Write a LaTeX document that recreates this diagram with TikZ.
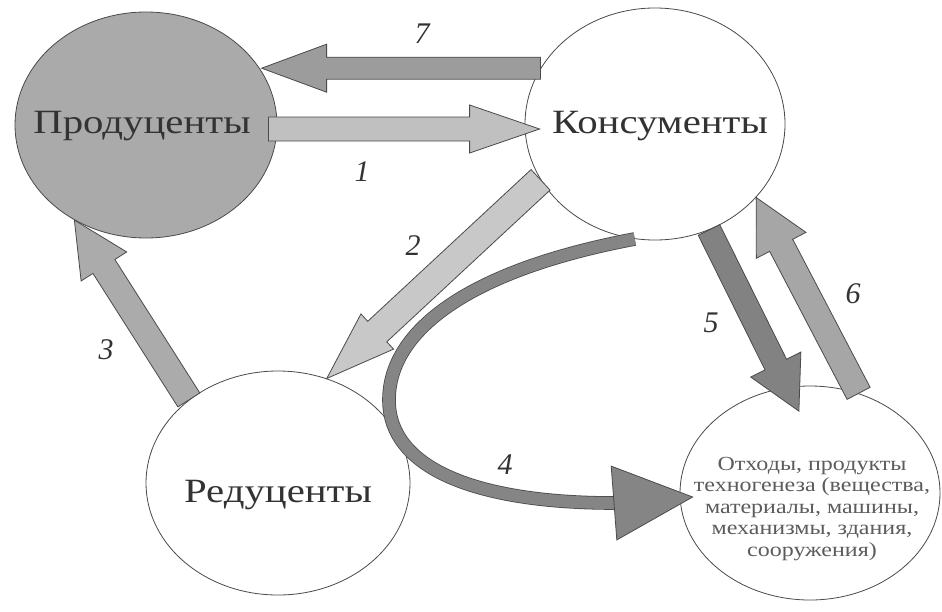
\documentclass[tikz,border=0pt]{standalone}
\usepackage{fontspec}
\setmainfont{Liberation Serif}
\newfontfamily\labelfont[FakeStretch=1.2]{Liberation Serif}
\usetikzlibrary{shapes.geometric,calc}

\definecolor{rimgray}{HTML}{4A4A4A}
\definecolor{textgray}{HTML}{333333}
\definecolor{prodgray}{HTML}{AAAAAA}
\definecolor{flowone}{HTML}{C0C0C0}
\definecolor{flowtwo}{HTML}{C8C8C8}
\definecolor{flowthree}{HTML}{ABABAB}
\definecolor{flowfour}{HTML}{858585}
\definecolor{flowfive}{HTML}{828282}
\definecolor{flowsix}{HTML}{A6A6A6}
\definecolor{flowseven}{HTML}{9C9C9C}

\tikzset{
  organism/.style={ellipse, draw=rimgray, line width=0.8pt, fill=white, inner sep=0pt},
  flow/.style={draw=rimgray, line width=0.8pt, line join=miter},
  bigname/.style={font=\labelfont\fontsize{34}{38}\selectfont, text=textgray, anchor=base, inner sep=0pt},
  smallname/.style={font=\labelfont\fontsize{20}{21.5}\selectfont, text=textgray!80, align=center, inner sep=0pt},
  num/.style={font=\itshape\fontsize{30}{30}\selectfont, text=textgray, inner sep=0pt},
}

% block arrow: [style]{tail}{tip}{shaft half width}{head half width}{head length}
\newcommand{\blockarrow}[6][]{%
  \coordinate (ba-tail) at (#2);
  \coordinate (ba-tip) at (#3);
  \coordinate (ba-base) at ($(ba-tip)!#6!(ba-tail)$);
  \filldraw[flow,#1] ($(ba-tail)!#4!90:(ba-tip)$) -- ($(ba-base)!#4!90:(ba-tip)$)
    -- ($(ba-base)!#5!90:(ba-tip)$) -- (ba-tip) -- ($(ba-base)!#5!-90:(ba-tip)$)
    -- ($(ba-base)!#4!-90:(ba-tip)$) -- ($(ba-tail)!#4!-90:(ba-tip)$) -- cycle;
}

\begin{document}
\begin{tikzpicture}[x=1pt,y=-1pt]
	\useasboundingbox (0,0) rectangle (942,611);
	% the four blocks
	\node[organism, fill=prodgray, minimum width=262pt, minimum height=226pt] (prod) at (146,125) {};
	\node[organism, minimum width=260pt, minimum height=232pt] (cons) at (655,124) {};
	\node[organism, minimum width=264pt, minimum height=224pt] (red) at (278,483) {};
	\node[organism, minimum width=260pt, minimum height=214pt] (waste) at (810,493) {};
	\node[bigname] (prodname) at (142,133) {Продуценты};
	\node[bigname] (consname) at (660,133) {Консументы};
	\node[bigname] (redname) at (278,502) {Редуценты};
	\node[smallname] (wastename) at (812,509) {Отходы, продукты\\техногенеза (вещества,\\материалы, машины,\\механизмы, здания,\\сооружения)};
	% straight flows
	\blockarrow[fill=flowseven]{cons.154}{prod.25 |- cons.154}{11pt}{24pt}{65pt}
	\blockarrow[fill=flowone]{$(prod.east)+(-9,4)$}{$(cons.west)+(15,5)$}{12pt}{24pt}{70pt}
	\blockarrow[fill=flowtwo]{cons.206}{red.65}{14pt}{24pt}{69pt}
	\blockarrow[fill=flowthree]{red.137}{prod.233}{13pt}{27pt}{55pt}
	\blockarrow[fill=flowfive]{cons.-63}{$(waste.97)+(2,25)$}{12pt}{28pt}{52pt}
	\blockarrow[fill=flowsix]{waste.64}{cons.-36}{13pt}{28pt}{54pt}
	% curved flow 4
	\coordinate (h4base) at (614,503);
	\coordinate (h4tip) at ($(waste.west)+(13,4)$);
	\draw[draw=rimgray, line width=0.8pt, double=flowfour, double distance=12pt]
		(cons.260) .. controls (470,270) and (389,330) .. (389,400)
		.. controls (389,470) and (480,503) .. (h4base);
	\filldraw[flow, fill=flowfour] ($(h4base)!37pt!90:(h4tip)$) -- (h4tip) -- ($(h4base)!37pt!-90:(h4tip)$) -- cycle;
	% numbers
	\node[num] (n7) at (422,34) {7};
	\node[num] (n1) at (362,172) {1};
	\node[num] (n2) at (413,246) {2};
	\node[num] (n3) at (106,350) {3};
	\node[num] (n4) at (505,465) {4};
	\node[num] (n5) at (711,323) {5};
	\node[num] (n6) at (853,294) {6};
\end{tikzpicture}
\end{document}
